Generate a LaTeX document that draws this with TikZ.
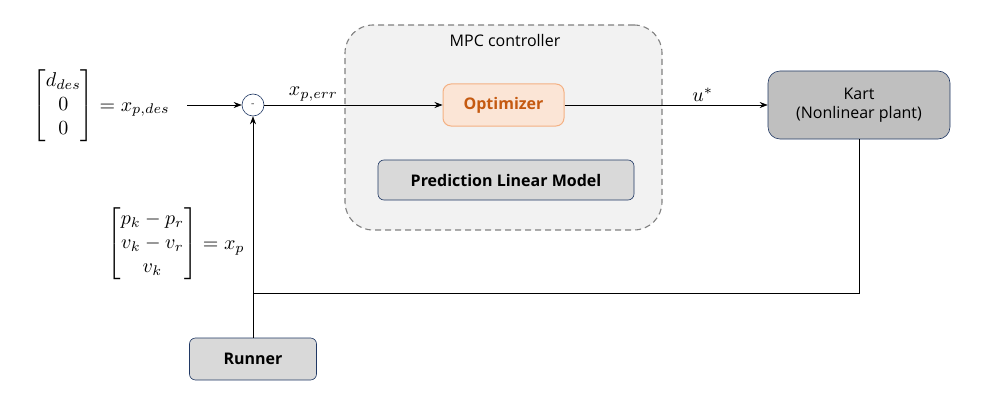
\documentclass[tikz,border=0pt]{standalone}
\usepackage{amsmath}
\usepackage{graphicx}
\usepackage{fontspec}
\setsansfont{Open Sans}
\usepackage{tikz}
\usetikzlibrary{arrows.meta, positioning}

\definecolor{navy}{HTML}{203864}
\definecolor{mpcfill}{HTML}{F2F2F2}
\definecolor{optfill}{HTML}{FBE5D6}
\definecolor{optline}{HTML}{F4B183}
\definecolor{opttext}{HTML}{C55A11}
\definecolor{boxgray}{HTML}{D9D9D9}
\definecolor{kartgray}{HTML}{BFBFBF}

\newcommand{\sigmath}[1]{\scalebox{2.0}{$#1$}}

\tikzset{
  block/.style = {draw = navy, rounded corners = 6pt, fill = boxgray, font = \sffamily\fontsize{16}{19}\selectfont\bfseries, align = center},
  sumnode/.style = {draw = navy, circle, minimum size = 22pt, inner sep = 0pt, fill = white},
  mathlbl/.style = {inner sep = 2pt}
}

\begin{document}
\begin{tikzpicture} [x = 1pt, y = -1pt, black, line width = 0.6pt]
			% Page frame
			\useasboundingbox (0,0) rectangle (986,412);
			% MPC controller frame
			\node (mpc) [draw = gray, dashed, line width = 1.1pt, dash pattern = on 6pt off 4pt, fill = mpcfill, rounded corners = 28pt,
			minimum width = 317pt, minimum height = 205pt] at (503.5,127.5) {};
			\node (mpclbl) [font = \sffamily\fontsize{16}{19}\selectfont, anchor = north] at (505,31) {MPC controller};

			% Blocks
			\node (opt) [block, draw = optline, fill = optfill, text = opttext, rounded corners = 8pt, line width = 1pt,
			minimum width = 121pt, minimum height = 42pt] at (503.5,105) {Optimizer};
			\node (pred) [block, minimum width = 256pt, minimum height = 40pt] at (506,180)
			{Prediction Linear Model};
			\node (kart) [block, fill = kartgray, rounded corners = 12pt, minimum width = 182pt, minimum height = 68pt,
			font = \sffamily\fontsize{16}{19}\selectfont] at (859,105) {Kart\\(Nonlinear plant)};
			\node (runner) [block, minimum width = 127pt, minimum height = 42pt] at (253,359) {Runner};

			% Summing junction
			\node (sum) [sumnode] at (253,105) {-};

			% Signals
			\node (xdes) [mathlbl, anchor = east] at (172,106)
			{\sigmath{\begin{bmatrix} d_{des}\\ 0\\ 0 \end{bmatrix} = x_{p,des}}};
			\node (xp) [mathlbl, anchor = east] at (247,244)
			{\sigmath{\begin{bmatrix} p_k - p_r\\ v_k - v_r\\ v_k \end{bmatrix} = x_{p}}};
			\coordinate (in) at (187,105);
			\coordinate (fb) at (253,293);

			% Draw Arrows/Connections
			\path [-{Stealth[length = 8pt, width = 6pt]}]
			(in) edge [] (sum)
			(sum.east) edge [] node [mathlbl, above = 1pt, pos = 0.275] {\sigmath{x_{p,err}}} (opt.west)
			(opt.east) edge [] node [mathlbl, above = 1pt, pos = 0.68] {\sigmath{u^{*}}} (kart.west)
			(runner.north) edge [] (sum.south);
			% Feedback from the kart
			\draw (kart.south) |- (fb);
		\end{tikzpicture}
\end{document}
